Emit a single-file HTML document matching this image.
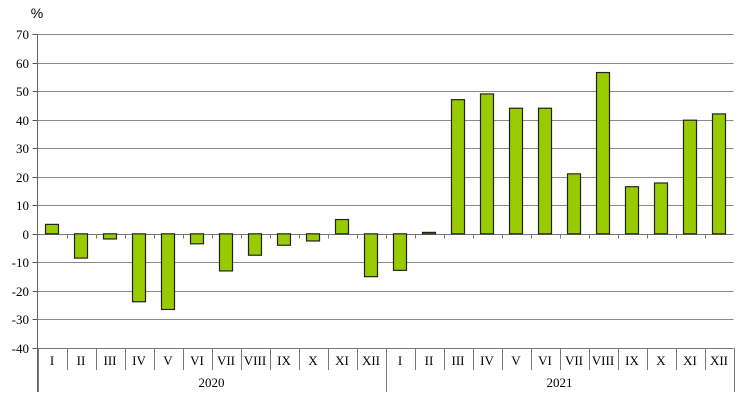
<!DOCTYPE html>
<html><head><meta charset="utf-8"><style>body{margin:0;background:#fff}svg{display:block}</style></head><body>
<svg width="740" height="407" xmlns="http://www.w3.org/2000/svg" font-family="Liberation Serif, serif" font-size="13">
<text x="37" y="18" font-family="Liberation Sans, sans-serif" font-size="14" text-anchor="middle">%</text>
</svg>
<script>
(function(){
const ns="http://www.w3.org/2000/svg",s=document.querySelector('svg');
function el(t,a,txt){const e=document.createElementNS(ns,t);for(const k in a)e.setAttribute(k,a[k]);if(txt!=null)e.textContent=txt;s.appendChild(e);return e;}
const yTop=34,yBot=348,x0=37.5,x1=733.5,cw=29;
const Y=v=>yTop+(70-v)*(yBot-yTop)/110;
for(let v=-40;v<=70;v+=10){const y=Math.round(Y(v))+0.5;
 if(v!==0)el('line',{x1:x0,x2:x1,y1:y,y2:y,stroke:'#8a8a8a'});
 el('line',{x1:x0-5,x2:x0,y1:y,y2:y,stroke:'#555'});
 el('text',{x:29,y:y+4.5,'text-anchor':'end'},v);}
const vals=[3.3,-8.5,-1.8,-23.8,-26.5,-3.5,-13,-7.5,-4,-2.5,5,-15,-12.8,0.5,47,49,44,44,21,56.5,16.5,17.8,39.8,42];
const m=['I','II','III','IV','V','VI','VII','VIII','IX','X','XI','XII'];
const z=Math.round(Y(0))+0.5;
el('line',{x1:x0,x2:x1,y1:z,y2:z,stroke:'#777'});
for(let i=0;i<=24;i++){const x=Math.round(x0+cw*i)+0.5;el('line',{x1:x,x2:x,y1:yBot,y2:(i%12==0)?392:370,stroke:'#777'});
 if(i>0&&i<24)el('line',{x1:x,x2:x,y1:z,y2:z+4,stroke:'#777'});}
vals.forEach((v,i)=>{const c=x0+cw*i+cw/2;const y1=Y(Math.max(v,0)),y2=Y(Math.min(v,0));
 el('rect',{x:c-6.5,y:y1,width:13,height:Math.max(y2-y1,1),fill:'#99cc00',stroke:'#222','stroke-width':1.2});
 el('text',{x:c,y:365,'text-anchor':'middle'},m[i%12]);});
el('line',{x1:x0,x2:x0,y1:yTop,y2:392,stroke:'#666'});
el('line',{x1:x0,x2:x1,y1:yBot+0.5,y2:yBot+0.5,stroke:'#777'});
el('text',{x:x0+cw*6,y:387,'text-anchor':'middle'},'2020');
el('text',{x:x0+cw*18,y:387,'text-anchor':'middle'},'2021');
})();
</script>
</body></html>
